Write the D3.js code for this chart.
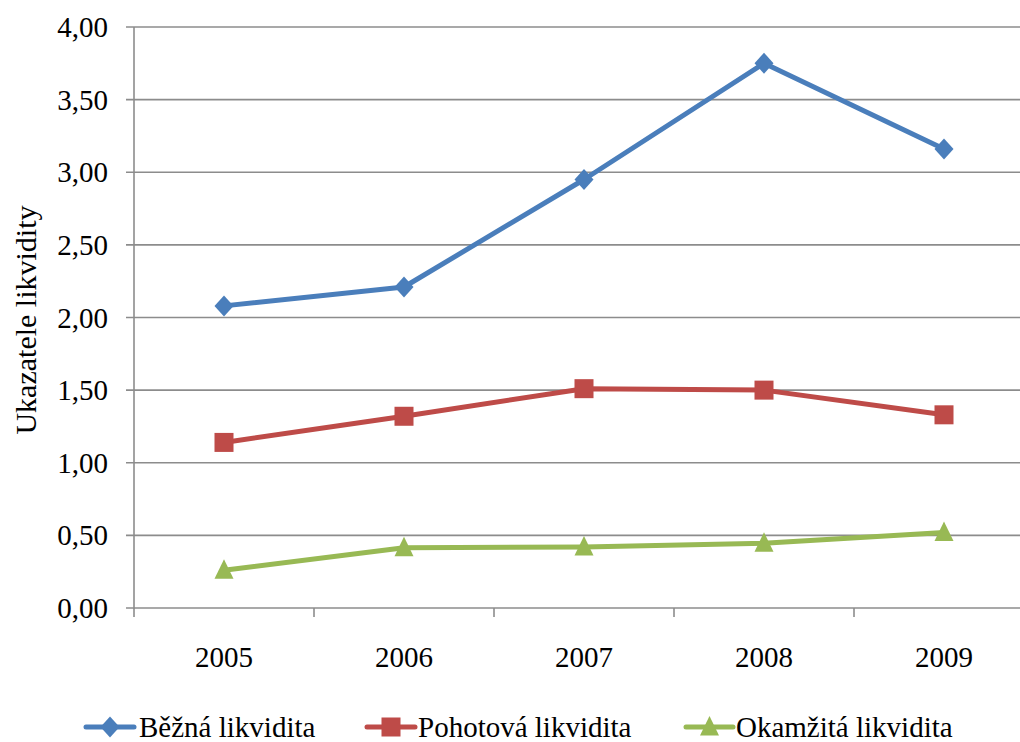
<!DOCTYPE html>
<html>
<head>
<meta charset="utf-8">
<script src="https://cdn.jsdelivr.net/npm/d3@7"></script>
<style>
  html, body { margin: 0; padding: 0; background: #fff; }
  svg { display: block; }
  svg text { font-family: 'Liberation Serif', 'Times New Roman', Tinos, 'DejaVu Serif', serif; }
</style>
</head>
<body>
<svg id="chart" width="1020" height="742"></svg>
<script>
// Liquidity ratios by year
const years = ["2005", "2006", "2007", "2008", "2009"];
const bezna = [2.08, 2.21, 2.95, 3.75, 3.16];
const pohotova = [1.14, 1.32, 1.51, 1.50, 1.33];
const okamzita = [0.26, 0.415, 0.42, 0.445, 0.52];
const yTicks = [0, 0.5, 1, 1.5, 2, 2.5, 3, 3.5, 4];
const seriesNames = ["Běžná likvidita", "Pohotová likvidita", "Okamžitá likvidita"];

const series = [
  { name: seriesNames[0], values: bezna, color: "#4A7EBB", marker: "diamond" },
  { name: seriesNames[1], values: pohotova, color: "#BE4B48", marker: "square" },
  { name: seriesNames[2], values: okamzita, color: "#98B954", marker: "triangle" }
];

const svg = d3.select("#chart");
const plotLeft = 134, plotTop = 27, plotBottom = 608, plotRight = 1034;
const fontSize = 29;

const x = d3.scaleBand().domain(years).range([plotLeft, plotRight]).padding(0);
const y = d3.scaleLinear().domain([0, 4]).range([plotBottom, plotTop]);
const fmt = d3.formatLocale({ decimal: ",", thousands: " ", grouping: [3], currency: ["", ""] }).format(".2f");

const gridColor = "#8C8C8C";

// horizontal gridlines with short tick stubs on the left
svg.append("g").selectAll("line").data(yTicks).join("line")
  .attr("x1", plotLeft - 8).attr("x2", 1020)
  .attr("y1", d => y(d)).attr("y2", d => y(d))
  .attr("stroke", gridColor).attr("stroke-width", 1.6);

// y tick labels
svg.append("g").selectAll("text").data(yTicks).join("text")
  .attr("x", 108).attr("y", d => y(d) + 10)
  .attr("text-anchor", "end")
  .attr("font-size", fontSize).attr("fill", "#000")
  .text(d => fmt(d));

// vertical axis line
svg.append("line")
  .attr("x1", plotLeft).attr("x2", plotLeft)
  .attr("y1", plotTop).attr("y2", plotBottom + 0.5)
  .attr("stroke", gridColor).attr("stroke-width", 1.6);

// category boundary ticks below the x axis
const boundaries = years.map(d => x(d)).concat([x(years[years.length - 1]) + x.bandwidth()]);
svg.append("g").selectAll("line").data(boundaries).join("line")
  .attr("x1", d => d).attr("x2", d => d)
  .attr("y1", plotBottom).attr("y2", plotBottom + 9)
  .attr("stroke", gridColor).attr("stroke-width", 1.6);

// x tick labels
svg.append("g").selectAll("text").data(years).join("text")
  .attr("x", d => x(d) + x.bandwidth() / 2).attr("y", 667)
  .attr("text-anchor", "middle")
  .attr("font-size", fontSize).attr("fill", "#000")
  .text(d => d);

// y axis title
svg.append("text")
  .attr("transform", "translate(36,320) rotate(-90)")
  .attr("text-anchor", "middle")
  .attr("font-size", 30).attr("fill", "#000")
  .text("Ukazatele likvidity");

function drawMarker(g, type, cx, cy, color) {
  if (type === "diamond") {
    g.append("path")
      .attr("d", `M${cx},${cy - 10.5}L${cx + 9.5},${cy}L${cx},${cy + 10.5}L${cx - 9.5},${cy}Z`)
      .attr("fill", color);
  } else if (type === "square") {
    g.append("rect").attr("x", cx - 9.5).attr("y", cy - 9.5)
      .attr("width", 19).attr("height", 19).attr("fill", color);
  } else {
    g.append("path")
      .attr("d", `M${cx},${cy - 11}L${cx + 9.5},${cy + 8.5}L${cx - 9.5},${cy + 8.5}Z`)
      .attr("fill", color);
  }
}

const line = d3.line()
  .x((d, i) => x(years[i]) + x.bandwidth() / 2)
  .y(d => y(d));

series.forEach(s => {
  const g = svg.append("g");
  g.append("path").datum(s.values)
    .attr("d", line)
    .attr("fill", "none").attr("stroke", s.color)
    .attr("stroke-width", 5).attr("stroke-linejoin", "round");
  s.values.forEach((v, i) => {
    drawMarker(g, s.marker, x(years[i]) + x.bandwidth() / 2, y(v), s.color);
  });
});

// legend
const legendItems = [
  { s: series[0], x0: 86, x1: 134, tx: 139 },
  { s: series[1], x0: 367, x1: 415, tx: 418 },
  { s: series[2], x0: 686, x1: 733, tx: 736 }
];
const ly = 727;
legendItems.forEach(it => {
  const g = svg.append("g");
  g.append("line").attr("x1", it.x0).attr("x2", it.x1)
    .attr("y1", ly).attr("y2", ly)
    .attr("stroke", it.s.color).attr("stroke-width", 5).attr("stroke-linecap", "round");
  drawMarker(g, it.s.marker, (it.x0 + it.x1) / 2, ly, it.s.color);
  g.append("text").attr("x", it.tx).attr("y", 737)
    .attr("font-size", fontSize).attr("fill", "#000")
    .text(it.s.name);
});
</script>
</body>
</html>
